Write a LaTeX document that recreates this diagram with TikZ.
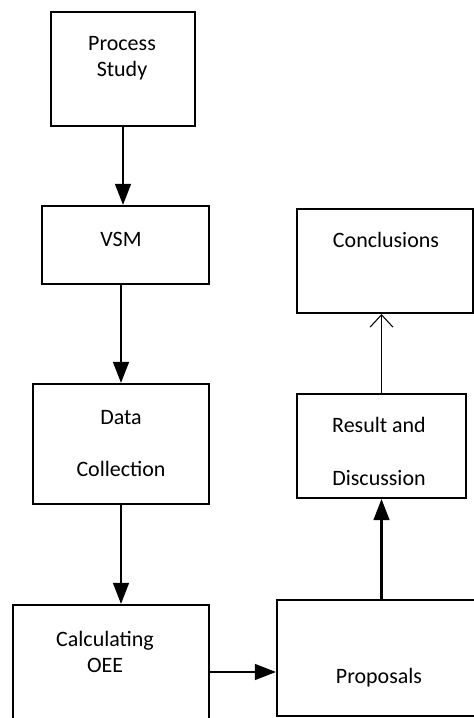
\documentclass[tikz,border=0pt]{standalone}
\usepackage{fontspec}
\setmainfont{Carlito}
\usetikzlibrary{arrows.meta}
\begin{document}
\begin{tikzpicture}

\tikzset{block/.style = {shape=rectangle,draw,line width=1.2pt}}
\tikzset{label/.style = {align=center,font=\fontsize{12.5}{15}\selectfont}}
\tikzset{edge/.style = {line width=1.2pt,-{Triangle[length=12pt,width=9pt]}}}
\tikzset{thinedge/.style = {line width=0.6pt,-{Straight Barb[length=7pt,width=13pt]}}}

\useasboundingbox (0,0) rectangle (9.48,14.36);
\clip (0,0) rectangle (9.48,14.36);

% boxes
\node[block,minimum width=2.88cm,minimum height=2.28cm] (ps) at (2.46,12.98) {};
\node[block,minimum width=3.34cm,minimum height=1.56cm] (vsm) at (2.51,9.46) {};
\node[block,minimum width=3.52cm,minimum height=2.4cm] (dc) at (2.42,5.48) {};
\node[block,minimum width=3.92cm,minimum height=2.5cm] (oee) at (2.22,1.01) {};

\node[block,minimum width=4.06cm,minimum height=2.32cm] (prop) at (7.57,1.2) {};
\node[block,minimum width=3.38cm,minimum height=2.08cm] (rd) at (7.63,5.44) {};
\node[block,minimum width=3.52cm,minimum height=2.08cm] (conc) at (7.7,9.14) {};

% texts
\node[label] (pstext) at (2.44,13.19) {Process\\Study};
\node[label] (vsmtext) at (2.42,9.58) {VSM};
\node[label] (dctext) at (2.42,5.49) {Data\\[15pt]Collection};
\node[label] (oeetext) at (2.1,1.32) {Calculating\\OEE};
\node[label] (proptext) at (7.58,0.8) {Proposals};
\node[label] (rdtext) at (7.58,5.33) {Result and\\[15pt]Discussion};
\node[label] (conctext) at (7.72,9.56) {Conclusions};

%edges
\draw[edge] (ps.south) to (ps.south |- vsm.north);
\draw[edge] (vsm.south -| dc.north) to (dc.north);
\draw[edge] (dc.south) to (dc.south |- oee.north);
\draw[edge] (oee.east |- 0,0.92) to (prop.west |- 0,0.92);
\draw[edge] (prop.north -| rd.south) to (rd.south);
\draw[thinedge] (rd.north) to (rd.north |- conc.south);

\end{tikzpicture}
\end{document}
